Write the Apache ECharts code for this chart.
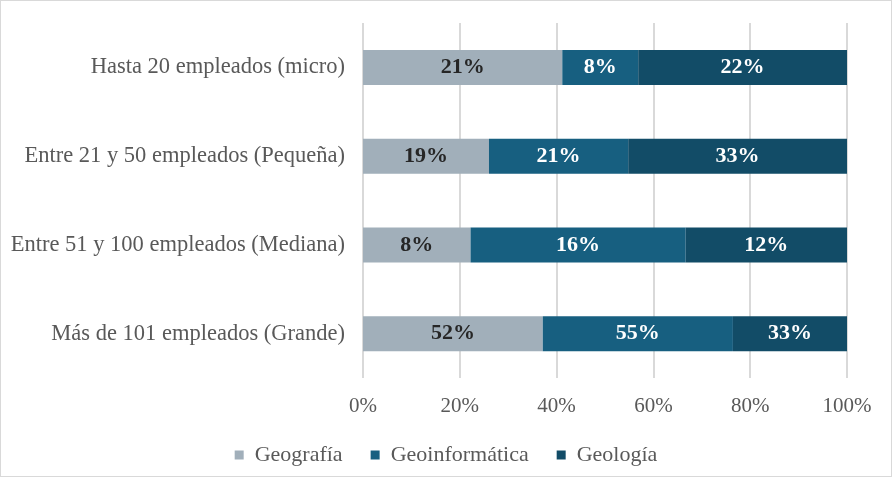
<!DOCTYPE html>
<html>
<head>
<meta charset="utf-8">
<script src="https://cdn.jsdelivr.net/npm/echarts@6/dist/echarts.min.js"></script>
<style>
  html, body { margin: 0; padding: 0; background: #fff; }
  #chart { width: 892px; height: 477px; box-sizing: border-box; border: 1px solid #d9d9d9; }
</style>
</head>
<body>
<div id="chart"></div>
<script>
// categorias de arriba hacia abajo
const categories = [
  'Hasta 20 empleados (micro)',
  'Entre 21 y 50 empleados (Pequeña)',
  'Entre 51 y 100 empleados (Mediana)',
  'Más de 101 empleados (Grande)'
];
const geografia = [21, 19, 8, 52];
const geoinformatica = [8, 21, 16, 55];
const geologia = [22, 33, 12, 33];
const xTicks = [0, 20, 40, 60, 80, 100];

const FONT = '"Liberation Serif", "Times New Roman", serif';

// barras al 100%: cada fila se normaliza por su total
const totals = categories.map((c, i) => geografia[i] + geoinformatica[i] + geologia[i]);
const norm = arr => arr.map((v, i) => v / totals[i] * 100);

function makeSeries(name, raw, color, textColor) {
  return {
    name: name,
    type: 'bar',
    stack: 'total',
    barWidth: 35,
    itemStyle: { color: color },
    label: {
      show: true,
      position: 'inside',
      color: textColor,
      fontFamily: FONT,
      fontWeight: 'bold',
      fontSize: 22,
      formatter: p => raw[p.dataIndex] + '%'
    },
    data: norm(raw)
  };
}

const chart = echarts.init(document.getElementById('chart'));
chart.setOption({
  animation: false,
  grid: { left: 362, right: 44, top: 22, bottom: 98 },
  legend: {
    bottom: 5,
    left: 'center',
    itemWidth: 9,
    itemHeight: 9,
    itemGap: 28,
    icon: 'rect',
    textStyle: { fontFamily: FONT, fontSize: 22, color: '#595959', padding: [0, 0, 0, 6] },
    data: ['Geografía', 'Geoinformática', 'Geología']
  },
  xAxis: {
    type: 'value',
    min: xTicks[0],
    max: xTicks[xTicks.length - 1],
    interval: 20,
    axisLine: { show: false },
    axisTick: { show: false },
    splitLine: { lineStyle: { color: '#d9d9d9', width: 2 } },
    axisLabel: {
      margin: 18,
      fontFamily: FONT,
      fontSize: 21,
      color: '#595959',
      formatter: '{value}%'
    }
  },
  yAxis: {
    type: 'category',
    inverse: true,
    data: categories,
    axisLine: { show: false },
    axisTick: { show: false },
    axisLabel: {
      margin: 18,
      fontFamily: FONT,
      fontSize: 22.5,
      color: '#595959'
    }
  },
  series: [
    makeSeries('Geografía', geografia, '#a1afba', '#262626'),
    makeSeries('Geoinformática', geoinformatica, '#175f80', '#ffffff'),
    makeSeries('Geología', geologia, '#124c67', '#ffffff')
  ]
});
</script>
</body>
</html>
